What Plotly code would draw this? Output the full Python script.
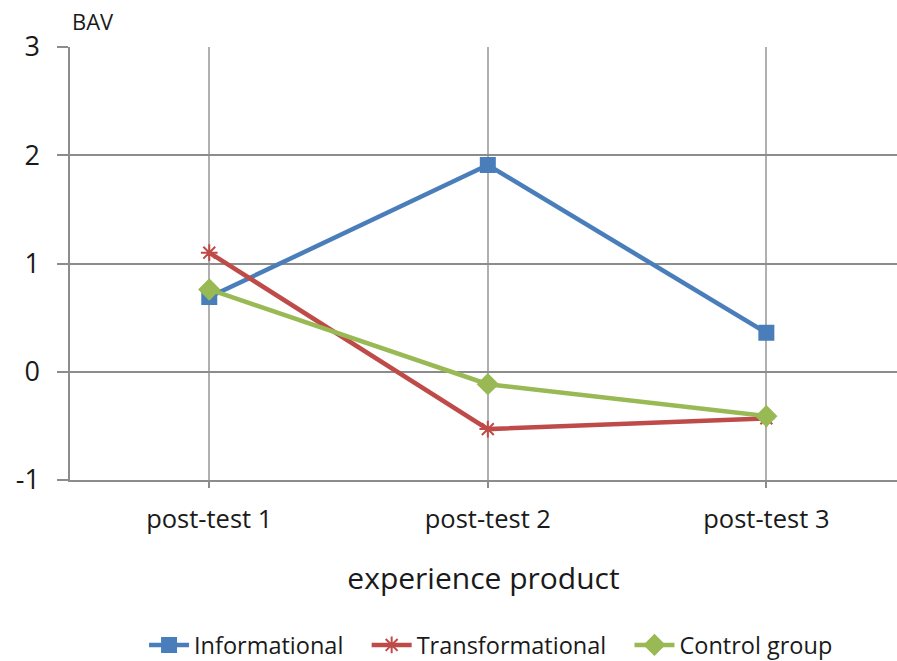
import plotly.graph_objects as go

categories = ["post-test 1", "post-test 2", "post-test 3"]
informational = [0.69, 1.91, 0.36]
transformational = [1.10, -0.53, -0.43]
control_group = [0.76, -0.115, -0.41]
y_ticks = [-1, 0, 1, 2, 3]

x_pos = list(range(len(categories)))

series = [
    ("Informational", informational, "#4A7EBB", "square", 14),
    ("Transformational", transformational, "#BE4B48", "asterisk-open", 14),
    ("Control group", control_group, "#98B954", "diamond", 15),
]

fig = go.Figure()
for name, vals, color, sym, msize in series:
    fig.add_trace(go.Scatter(
        x=x_pos, y=vals, name=name + "   ", mode="lines+markers",
        line=dict(color=color, width=4.5),
        marker=dict(symbol=sym, size=msize, color=color,
                    line=dict(color=color, width=2)),
    ))

font_family = "Open Sans, Noto Sans, sans-serif"

fig.update_layout(
    width=897, height=661,
    margin=dict(l=70, r=0, t=47, b=181, autoexpand=False),
    plot_bgcolor="white", paper_bgcolor="white",
    font=dict(family=font_family, color="#1a1a1a"),
    showlegend=True,
    legend=dict(orientation="h", x=0.52, xanchor="center",
                yref="container", y=0.024, yanchor="middle",
                font=dict(size=23.5, color="#1a1a1a"), itemwidth=40,
                tracegroupgap=0),
    xaxis=dict(
        tickmode="array", tickvals=x_pos, ticktext=categories,
        range=[-0.5, 2.469],
        showgrid=True, gridcolor="#b0b0b0", gridwidth=1.5,
        ticks="outside", ticklen=6, tickcolor="#8c8c8c", tickwidth=1.5,
        tickfont=dict(size=25.5, color="#1a1a1a"),
        ticklabelstandoff=10,
        showline=True, linecolor="#8c8c8c", linewidth=1.5,
        zeroline=False,
        title=dict(text="experience product", font=dict(size=30, color="#1a1a1a"),
                   standoff=34),
    ),
    yaxis=dict(
        tickmode="array", tickvals=y_ticks, ticktext=[str(v) for v in y_ticks],
        range=[-1, 3],
        showgrid=True, gridcolor="#8c8c8c", gridwidth=1.5,
        ticks="outside", ticklen=11, tickcolor="#8c8c8c", tickwidth=1.5,
        tickfont=dict(size=27, color="#1a1a1a"),
        ticklabelstandoff=12,
        showline=True, linecolor="#8c8c8c", linewidth=1.5,
        zeroline=False,
    ),
    annotations=[dict(
        text="BAV", xref="paper", yref="paper", x=0.0, y=1.0,
        xanchor="left", yanchor="bottom", yshift=9, xshift=0, showarrow=False,
        font=dict(size=22, color="#1a1a1a"),
    )],
)

fig.write_html("out.html")
